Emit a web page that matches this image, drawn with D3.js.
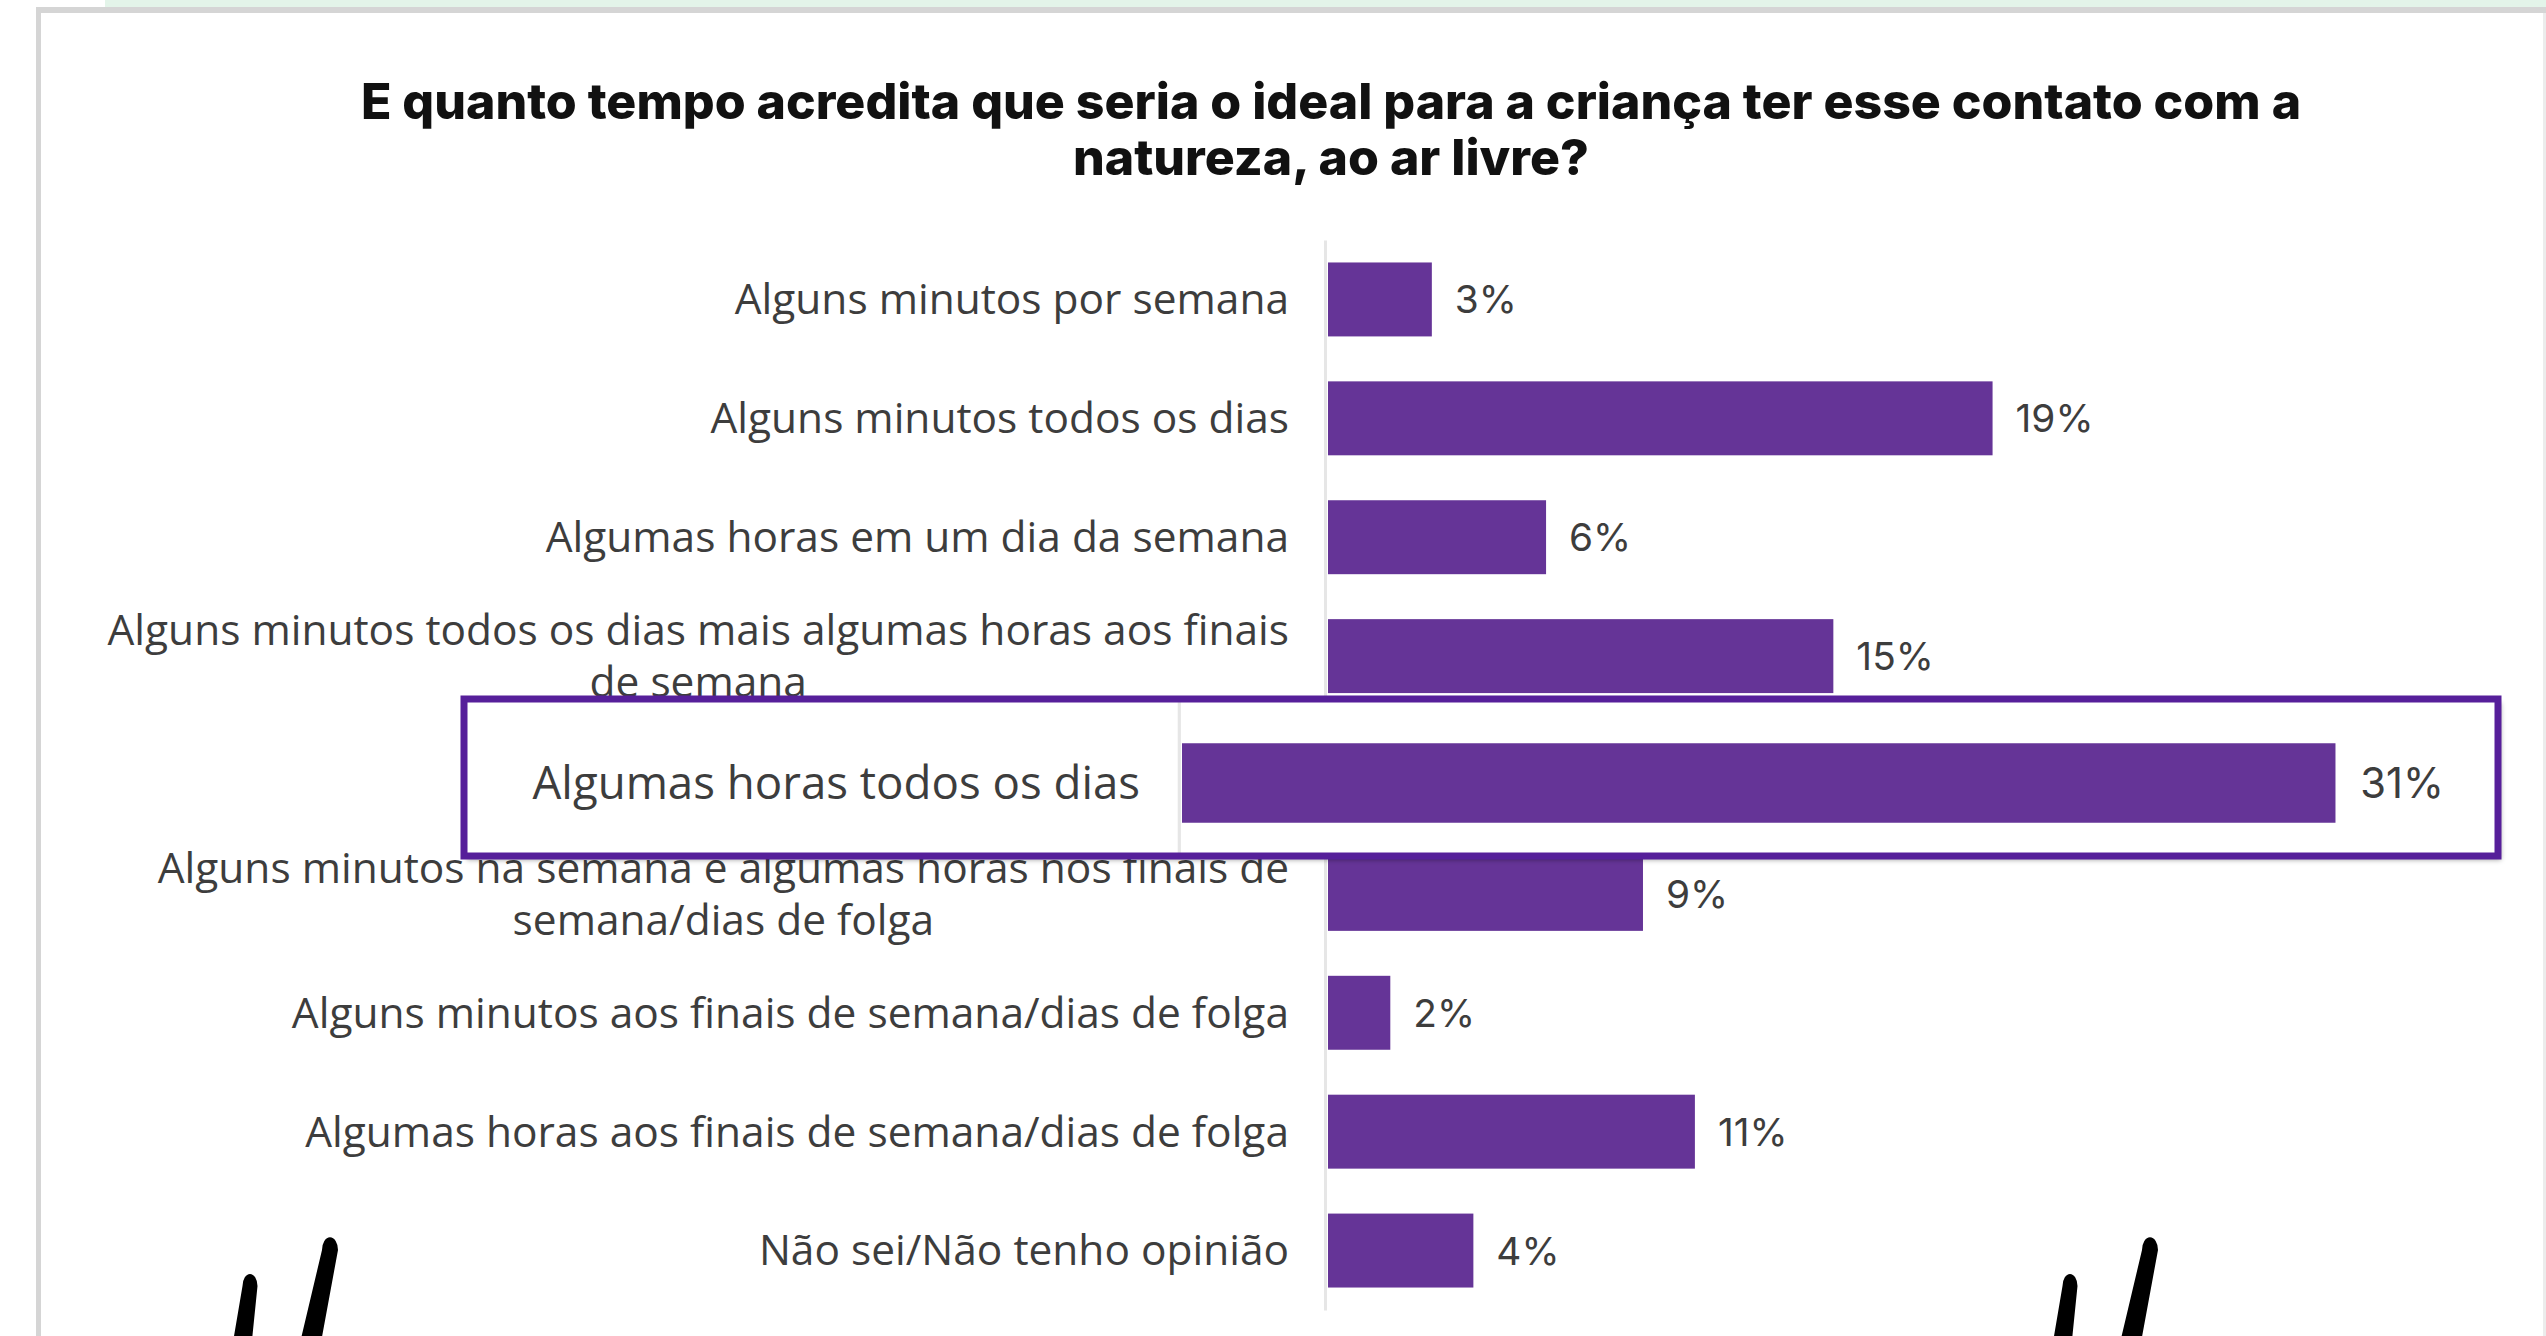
<!DOCTYPE html>
<html><head><meta charset="utf-8">
<script src="https://cdn.jsdelivr.net/npm/d3@7"></script>
<style>html,body{margin:0;padding:0;background:#fff;overflow:hidden}</style>
</head><body>
<svg id="chart" width="2546" height="1336"></svg>
<script>
// ---- data ----
const titleLines = [
  "E quanto tempo acredita que seria o ideal para a criança ter esse contato com a",
  "natureza, ao ar livre?"
];
const categories = [
  "Alguns minutos por semana",
  "Alguns minutos todos os dias",
  "Algumas horas em um dia da semana",
  "Alguns minutos todos os dias mais algumas horas aos finais\nde semana",
  "Algumas horas todos os dias",
  "Alguns minutos na semana e algumas horas nos finais de\nsemana/dias de folga",
  "Alguns minutos aos finais de semana/dias de folga",
  "Algumas horas aos finais de semana/dias de folga",
  "Não sei/Não tenho opinião"
];
const values = [3.0, 19.2, 6.3, 14.6, 31.0, 9.1, 1.8, 10.6, 4.2];
const valueLabels = ["3%", "19%", "6%", "15%", "31%", "9%", "2%", "11%", "4%"];
const highlightedCategory = "Algumas horas todos os dias";

// ---- setup ----
const svg = d3.select("#chart");
const W = 2546, H = 1336;
const BAR = "#653497", TEXT = "#3d3d3d";
const LABEL_FONT = "'Open Sans', 'Noto Sans', sans-serif";
const VALUE_FONT = "Inter, 'DejaVu Sans', sans-serif";
const TITLE_FONT = "Inter, 'DejaVu Sans', sans-serif";

function measure(text, family, weight, size) {
  const t = svg.append("text").attr("font-family", family).attr("font-weight", weight)
    .attr("font-size", size).text(text);
  const w = t.node().getComputedTextLength();
  t.remove();
  return w;
}
const titleSize = 40 * 1941 / measure(titleLines[0], TITLE_FONT, 800, 40);
const labelSize = 30 * 1182 / measure(categories[3].split("\n")[0], LABEL_FONT, 400, 30);
const valueSize = 36 * 78 / measure("19%", VALUE_FONT, 400, 36);

const defs = svg.append("defs");
const f = defs.append("filter").attr("id", "shadow").attr("x", "-5%").attr("y", "-20%").attr("width", "110%").attr("height", "140%");
f.append("feDropShadow").attr("dx", 3).attr("dy", 4).attr("stdDeviation", 2.5)
  .attr("flood-color", "#000").attr("flood-opacity", 0.35);

// page frame
svg.append("rect").attr("x", 0).attr("y", 0).attr("width", W).attr("height", H).attr("fill", "#fff");
svg.append("rect").attr("x", 105).attr("y", 0).attr("width", W - 105).attr("height", 7).attr("fill", "#e3f4e9");
svg.append("rect").attr("x", 36).attr("y", 7).attr("width", W - 36).attr("height", 6).attr("fill", "#d5d5d5");
svg.append("rect").attr("x", 36).attr("y", 7).attr("width", 5).attr("height", H - 7).attr("fill", "#d5d5d5");
svg.append("rect").attr("x", 2543).attr("y", 13).attr("width", 3).attr("height", H - 13).attr("fill", "#ececec");

// title
svg.append("g").selectAll("text").data(titleLines).join("text")
  .attr("x", 1331).attr("y", (d, i) => 119 + i * 56)
  .attr("text-anchor", "middle")
  .attr("font-family", TITLE_FONT).attr("font-weight", 800)
  .attr("font-size", titleSize).attr("fill", "#111")
  .text(d => d);

// scales
const x = d3.scaleLinear().domain([0, 31]).range([1328, 2401]);
const y = d3.scaleBand().domain(categories).range([240, 1310])
  .paddingInner(0.378).paddingOuter(0.189);

function drawRows(g, rows, axis) {
  if (axis) {
    const ax = g.append("g").attr("transform", "translate(1325,0)")
      .call(d3.axisLeft(y).tickSize(0).tickSizeOuter(0).tickFormat(() => ""));
    ax.select(".domain").attr("stroke", "#e6e6e6").attr("stroke-width", 3);
  }
  const row = g.selectAll("g.row").data(rows).join("g").attr("class", "row");
  row.append("rect")
    .attr("x", x(0))
    .attr("y", d => y(categories[d]))
    .attr("width", d => x(values[d]) - x(0))
    .attr("height", y.bandwidth())
    .attr("fill", BAR);
  row.append("text")
    .attr("x", d => x(values[d]) + 23)
    .attr("y", d => y(categories[d]) + y.bandwidth() / 2)
    .attr("dy", "0.36em")
    .attr("font-family", VALUE_FONT).attr("font-weight", 400)
    .attr("font-size", valueSize).attr("fill", TEXT)
    .text(d => valueLabels[d]);
  row.each(function (d) {
    const lines = categories[d].split("\n");
    const cy = y(categories[d]) + y.bandwidth() / 2;
    const lh = 52;
    const w = measure(lines[0], LABEL_FONT, 400, labelSize);
    const cx = 1289 - w / 2;
    d3.select(this).selectAll("text.cat").data(lines).join("text")
      .attr("class", "cat")
      .attr("x", lines.length > 1 ? cx : 1289)
      .attr("text-anchor", lines.length > 1 ? "middle" : "end")
      .attr("y", (l, i) => cy + (i - (lines.length - 1) / 2) * lh)
      .attr("dy", "0.35em")
      .attr("font-family", LABEL_FONT).attr("font-weight", 400)
      .attr("font-size", labelSize).attr("fill", TEXT)
      .text(l => l);
  });
}

const hi = categories.indexOf(highlightedCategory);
const main = svg.append("g");
drawRows(main, d3.range(categories.length).filter(i => i !== hi), true);

// callout (magnified copy of highlighted row)
const box = { x: 464, y: 699, w: 2034, h: 157 };
svg.append("rect").attr("x", box.x).attr("y", box.y).attr("width", box.w).attr("height", box.h)
  .attr("fill", "#fff").attr("filter", "url(#shadow)");
defs.append("clipPath").attr("id", "boxclip").append("rect")
  .attr("x", box.x).attr("y", box.y).attr("width", box.w).attr("height", box.h);
const s = 1.075;
const yc = y(highlightedCategory) + y.bandwidth() / 2;
const clipG = svg.append("g").attr("clip-path", "url(#boxclip)");
const zoomG = clipG.append("g")
  .attr("transform", `translate(${1182 - s * x(0)},${783 - s * yc}) scale(${s})`);
drawRows(zoomG, [hi], true);
svg.append("rect").attr("x", box.x).attr("y", box.y).attr("width", box.w).attr("height", box.h)
  .attr("fill", "none").attr("stroke", "#561f9a").attr("stroke-width", 7);

// decorative brush strokes (tapered: thin rounded top, wider bottom)
const strokes = [
  [[250, 1286], [242, 1345], 15, 19], [[330, 1250], [310, 1345], 16, 21],
  [[2070, 1286], [2062, 1345], 15, 19], [[2150, 1250], [2130, 1345], 16, 21]
];
svg.append("g").selectAll("path").data(strokes).join("path")
  .attr("d", d => {
    const [[x1, y1], [x2, y2], w1, w2] = d;
    const r1 = w1 / 2, r2 = w2 / 2;
    return `M${x1 - r1},${y1} A${r1},${r1 * 1.6} 0 0 1 ${x1 + r1},${y1} L${x2 + r2},${y2} L${x2 - r2},${y2} Z`;
  })
  .attr("fill", "#000");
</script>
</body></html>
